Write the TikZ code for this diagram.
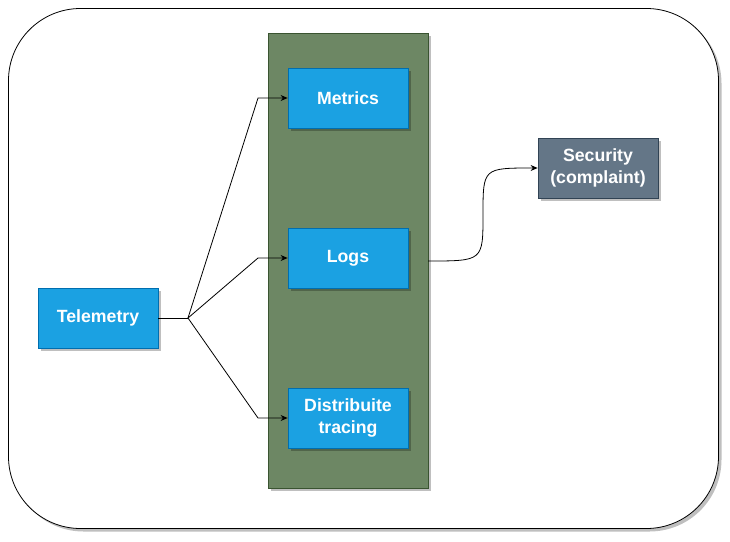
\documentclass[tikz,border=0pt]{standalone}
\usepackage{fontspec}
\setmainfont{Liberation Sans}
\usetikzlibrary{arrows.meta,shadows}
\definecolor{bluefill}{HTML}{1BA1E2}
\definecolor{bluedraw}{HTML}{006EAF}
\definecolor{greenfill}{HTML}{6D8764}
\definecolor{greendraw}{HTML}{3A5431}
\definecolor{grayfill}{HTML}{647687}
\definecolor{graydraw}{HTML}{314354}
\tikzset{
  x=1pt, y=-1pt,
  shad/.style={drop shadow={shadow xshift=3pt, shadow yshift=-3pt, fill=black, opacity=0.25}},
  box/.style={shad, rectangle, minimum width=120pt, minimum height=60pt, inner sep=0pt,
    font=\fontsize{17.7}{22.5}\selectfont\bfseries, text=white, align=center, line width=0.8pt},
  bluebox/.style={box, fill=bluefill, draw=bluedraw},
  graybox/.style={box, fill=grayfill, draw=graydraw},
  conn/.style={draw=black, line width=0.8pt, -{Stealth[length=7pt,width=6pt]}},
  link/.style={draw=black, line width=0.8pt},
}
\begin{document}
\begin{tikzpicture}
\useasboundingbox (0,0) rectangle (730,541);
\fill[white] (0,0) rectangle (730,541);
% outer frame
\node[shad, draw=black, fill=white, line width=0.8pt, rounded corners=72pt, minimum width=710pt, minimum height=520pt, inner sep=0pt] (frame) at (363.5,268.5) {};
% green container
\node[shad, draw=greendraw, fill=greenfill, line width=0.8pt, minimum width=160pt, minimum height=455pt, inner sep=0pt] (group) at (348,260.5) {};
% boxes
\node[bluebox] (metrics) at (348,98) {Metrics};
\node[bluebox] (logs) at (348,258) {Logs};
\node[bluebox] (tracing) at (348,418) {Distribuite\\tracing};
\node[bluebox] (telemetry) at (98,318) {Telemetry};
\node[graybox] (security) at (598,168) {Security\\(complaint)};
% connectors
\coordinate (split) at (188,318);
\coordinate (m1) at (258,98);
\coordinate (l1) at (258,258);
\coordinate (t1) at (258,418);
\path[link] (telemetry.east) -- (split);
\path[conn] (split) -- (m1) -- (metrics.west);
\path[conn] (split) -- (l1) -- (logs.west);
\path[conn] (split) -- (t1) -- (tracing.west);
\coordinate (gout) at (428,261);
\coordinate (mid) at (483,214.5);
\path[conn] (gout) .. controls (483,261) .. (mid) .. controls (483,168) .. (security.west);
\end{tikzpicture}
\end{document}
